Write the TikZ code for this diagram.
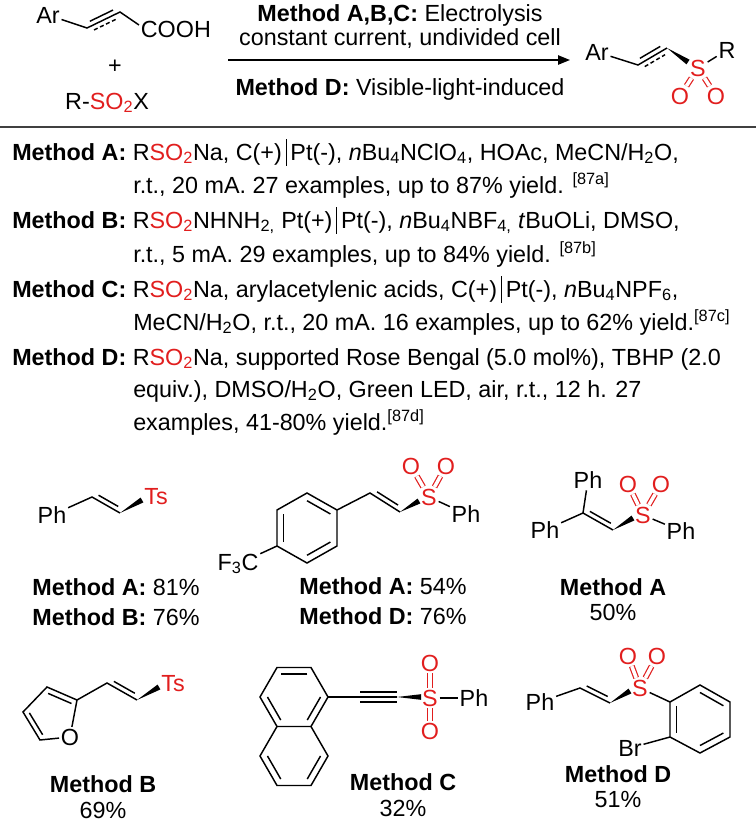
\documentclass[tikz,border=0pt]{standalone}
\usepackage{fontspec}
\setmainfont{Liberation Sans}
\usetikzlibrary{calc,arrows.meta}
\definecolor{sred}{RGB}{225,30,30}
\newcommand{\lf}{\fontsize{17.5}{21}\selectfont}
\newcommand{\sref}[1]{\textsuperscript{[#1]}}
\newcommand{\vbar}{\,\rule[-0.25em]{0.6pt}{1.15em}\,}
\newcommand{\dbond}[4]{\draw[bond] ($(#1)!.15!(#2)!3.6pt!#3:(#2)$) -- ($(#2)!.15!(#1)!3.6pt!#4:(#1)$);}
\newcommand{\dshb}[4]{\draw[bond,dash pattern=on 3pt off 2pt] ($(#1)!.15!(#2)!3.6pt!#3:(#2)$) -- ($(#2)!.15!(#1)!3.6pt!#4:(#1)$);}
\newcommand{\rin}[3]{\draw[bond] ($(#1)!.78!(#2)$) -- ($(#1)!.78!(#3)$);}
\newcommand{\wdg}[2]{\fill ($(#2)!2.1pt!90:(#1)$) -- (#1) -- ($(#2)!2.1pt!-90:(#1)$) -- cycle;}
\begin{document}
\begin{tikzpicture}[x=0.75pt,y=-0.75pt,
  bond/.style={line width=1.1pt},
  lbl/.style={inner sep=1.2pt,font=\lf},
  rlbl/.style={lbl,text=sred},
  txt/.style={inner sep=0pt,font=\lf,anchor=base west},
  ctxt/.style={inner sep=0pt,font=\lf,align=center}]
\useasboundingbox (0,0) rectangle (756,819);
% ---------- reaction ----------
\node[lbl] (ar) at (48,15) {Ar};
\coordinate (a1) at (87,28); \coordinate (a2) at (120,12); \coordinate (a3) at (139,25);
\node[lbl,anchor=west] (cooh) at (139,29) {COOH};
\draw[bond] (ar) -- (a1) -- (a2) -- (a3);
\dbond{a1}{a2}{90}{-90}
\dshb{a1}{a2}{-90}{90}
\node[ctxt] (plus) at (115,67) {+};
\node[ctxt] (rso) at (107,103) {R-{\color{sred}SO\textsubscript{2}}X};
\coordinate (arS) at (228,60); \coordinate (arE) at (570,60);
\draw[line width=1.1pt,-{Triangle[length=9pt,width=7pt]}] (arS) -- (arE);
\node[ctxt] (t1) at (400,15) {\textbf{Method A,B,C:} Electrolysis};
\node[ctxt] (t2) at (400,39) {constant current, undivided cell};
\node[ctxt] (t3) at (400,89) {\textbf{Method D:} Visible-light-induced};
\node[lbl] (par) at (597,52) {Ar};
\coordinate (p1) at (638,65); \coordinate (p2) at (667,48); \coordinate (pw) at (688,62);
\node[rlbl] (pS) at (698,68) {S};
\node[lbl] (pR) at (727,50) {R};
\node[rlbl] (pO1) at (680,96) {O};
\node[rlbl] (pO2) at (716,96) {O};
\draw[bond] (par) -- (p1) -- (p2);
\dbond{p1}{p2}{90}{-90}
\dshb{p1}{p2}{-90}{90}
\wdg{p2}{pw}
\draw[bond] (pS) -- (pR);
\draw[bond,sred,double,double distance=2.6pt,line width=0.9pt] (pS) -- (pO1);
\draw[bond,sred,double,double distance=2.6pt,line width=0.9pt] (pS) -- (pO2);
\coordinate (sepL) at (0,127); \coordinate (sepR) at (756,127);
\draw[line width=0.8pt,black!75] (sepL) -- (sepR);
% ---------- conditions ----------
\node[txt] (mA1) at (12,160) {\textbf{Method A:} R{\color{sred}SO\textsubscript{2}}Na, C(+)\vbar Pt(-), \textit{n}Bu\textsubscript{4}NClO\textsubscript{4}, HOAc, MeCN/H\textsubscript{2}O,};
\node[txt] (mA2) at (133,193) {r.t., 20 mA. 27 examples, up to 87\% yield. \sref{87a}};
\node[txt] (mB1) at (12,228) {\textbf{Method B:} R{\color{sred}SO\textsubscript{2}}NHNH\textsubscript{2,} Pt(+)\vbar Pt(-), \textit{n}Bu\textsubscript{4}NBF\textsubscript{4,} \textit{t}BuOLi, DMSO,};
\node[txt] (mB2) at (133,262) {r.t., 5 mA. 29 examples, up to 84\% yield. \sref{87b}};
\node[txt] (mC1) at (12,297) {\textbf{Method C:} R{\color{sred}SO\textsubscript{2}}Na, arylacetylenic acids, C(+)\vbar Pt(-), \textit{n}Bu\textsubscript{4}NPF\textsubscript{6},};
\node[txt] (mC2) at (133,330) {MeCN/H\textsubscript{2}O, r.t., 20 mA. 16 examples, up to 62\% yield.\sref{87c}};
\node[txt] (mD1) at (12,365) {\textbf{Method D:} R{\color{sred}SO\textsubscript{2}}Na, supported Rose Bengal (5.0 mol\%), TBHP (2.0};
\node[txt] (mD2) at (133,397) {equiv.), DMSO/H\textsubscript{2}O, Green LED, air, r.t., 12 h. 27};
\node[txt] (mD3) at (133,430) {examples, 41-80\% yield.\sref{87d}};
% ---------- structure 1 ----------
\node[lbl] (s1Ph) at (52,515) {Ph};
\coordinate (s1a) at (92,497); \coordinate (s1b) at (120,513); \coordinate (s1w) at (142,500);
\node[rlbl] (s1Ts) at (156,497) {Ts};
\draw[bond] (s1Ph) -- (s1a) -- (s1b);
\dbond{s1a}{s1b}{90}{-90}
\wdg{s1b}{s1w}
\node[ctxt] (l1a) at (116,587) {\textbf{Method A:} 81\%};
\node[ctxt] (l1b) at (116,617) {\textbf{Method B:} 76\%};
% ---------- structure 2 ----------
\coordinate (c2) at (307,528);
\coordinate (r2T) at (307,493); \coordinate (r2UR) at (337,510); \coordinate (r2LR) at (337,546);
\coordinate (r2B) at (307,563); \coordinate (r2LL) at (277,546); \coordinate (r2UL) at (277,510);
\draw[bond] (r2T) -- (r2UR) -- (r2LR) -- (r2B) -- (r2LL) -- (r2UL) -- cycle;
\rin{c2}{r2T}{r2UR} \rin{c2}{r2LR}{r2B} \rin{c2}{r2LL}{r2UL}
\node[lbl] (s2F) at (238,564) {F\textsubscript{3}C};
\draw[bond] (r2LL) -- (s2F);
\coordinate (s2a) at (370,493); \coordinate (s2b) at (400,512); \coordinate (s2w) at (419,501);
\draw[bond] (r2UR) -- (s2a) -- (s2b);
\dbond{s2a}{s2b}{90}{-90}
\wdg{s2b}{s2w}
\node[rlbl] (s2S) at (429,497) {S};
\node[rlbl] (s2O1) at (411,466) {O};
\node[rlbl] (s2O2) at (446,466) {O};
\node[lbl] (s2Ph) at (466,514) {Ph};
\draw[bond] (s2S) -- (s2Ph);
\draw[bond,sred,double,double distance=2.6pt,line width=0.9pt] (s2S) -- (s2O1);
\draw[bond,sred,double,double distance=2.6pt,line width=0.9pt] (s2S) -- (s2O2);
\node[ctxt] (l2a) at (383,586) {\textbf{Method A:} 54\%};
\node[ctxt] (l2b) at (383,616) {\textbf{Method D:} 76\%};
% ---------- structure 3 ----------
\node[lbl] (s3Pt) at (588,480) {Ph};
\node[lbl] (s3Pl) at (545,530) {Ph};
\coordinate (s3a) at (583,513); \coordinate (s3b) at (613,530); \coordinate (s3w) at (633,518);
\draw[bond] (s3Pt) -- (s3a); \draw[bond] (s3Pl) -- (s3a) -- (s3b);
\dbond{s3a}{s3b}{90}{-90}
\wdg{s3b}{s3w}
\node[rlbl] (s3S) at (643,515) {S};
\node[rlbl] (s3O1) at (628,484) {O};
\node[rlbl] (s3O2) at (661,484) {O};
\node[lbl] (s3Pr) at (681,531) {Ph};
\draw[bond] (s3S) -- (s3Pr);
\draw[bond,sred,double,double distance=2.6pt,line width=0.9pt] (s3S) -- (s3O1);
\draw[bond,sred,double,double distance=2.6pt,line width=0.9pt] (s3S) -- (s3O2);
\node[ctxt] (l3a) at (613,587) {\textbf{Method A}};
\node[ctxt] (l3b) at (613,612) {50\%};
% ---------- structure 4 (furan) ----------
\coordinate (f2) at (77,700); \coordinate (f3) at (47,687); \coordinate (f4) at (23,712);
\coordinate (f5) at (40,740); \coordinate (fc) at (52,716);
\node[lbl] (fO) at (70,737) {O};
\draw[bond] (f2) -- (f3) -- (f4) -- (f5) -- (fO) -- (f2);
\rin{fc}{f2}{f3} \rin{fc}{f4}{f5}
\coordinate (s4a) at (107,683); \coordinate (s4b) at (137,700); \coordinate (s4w) at (159,687);
\draw[bond] (f2) -- (s4a) -- (s4b);
\dbond{s4a}{s4b}{90}{-90}
\wdg{s4b}{s4w}
\node[rlbl] (s4Ts) at (173,684) {Ts};
\node[ctxt] (l4a) at (103,784) {\textbf{Method B}};
\node[ctxt] (l4b) at (103,810) {69\%};
% ---------- structure 5 (naphthalene) ----------
\coordinate (nu) at (294,697); \coordinate (nl) at (294,756);
\coordinate (nR) at (328,697); \coordinate (nTR) at (311,667.5); \coordinate (nTL) at (277,667.5);
\coordinate (nL) at (260,697); \coordinate (nFL) at (277,726.5); \coordinate (nFR) at (311,726.5);
\coordinate (nLR) at (328,756); \coordinate (nBR) at (311,785.5); \coordinate (nBL) at (277,785.5);
\coordinate (nLw) at (260,756);
\draw[bond] (nR) -- (nTR) -- (nTL) -- (nL) -- (nFL) -- (nFR) -- cycle;
\draw[bond] (nFR) -- (nLR) -- (nBR) -- (nBL) -- (nLw) -- (nFL);
\rin{nu}{nTR}{nTL} \rin{nu}{nR}{nFR} \rin{nu}{nL}{nFL}
\rin{nl}{nLR}{nBR} \rin{nl}{nBL}{nLw}
\coordinate (t1) at (360,697); \coordinate (t2) at (397,697); \coordinate (tw) at (421,697);
\draw[bond] (nR) -- (t1) -- (t2);
\draw[bond] ($(t1)+(0,-5)$) -- ($(t2)+(0,-5)$);
\draw[bond] ($(t1)+(0,5)$) -- ($(t2)+(0,5)$);
\wdg{t2}{tw}
\node[rlbl] (s5S) at (430,698) {S};
\node[rlbl] (s5O1) at (430,663) {O};
\node[rlbl] (s5O2) at (430,731) {O};
\node[lbl] (s5Ph) at (474,698) {Ph};
\draw[bond] (s5S) -- (s5Ph);
\draw[bond,sred,double,double distance=2.6pt,line width=0.9pt] (s5S) -- (s5O1);
\draw[bond,sred,double,double distance=2.6pt,line width=0.9pt] (s5S) -- (s5O2);
\node[ctxt] (l5a) at (403,782) {\textbf{Method C}};
\node[ctxt] (l5b) at (403,808) {32\%};
% ---------- structure 6 ----------
\node[lbl] (s6Ph) at (540,702) {Ph};
\coordinate (s6a) at (580,688); \coordinate (s6b) at (610,703); \coordinate (s6w) at (630,691);
\draw[bond] (s6Ph) -- (s6a) -- (s6b);
\dbond{s6a}{s6b}{90}{-90}
\wdg{s6b}{s6w}
\node[rlbl] (s6S) at (640,688) {S};
\node[rlbl] (s6O1) at (628,656) {O};
\node[rlbl] (s6O2) at (657,656) {O};
\draw[bond,sred,double,double distance=2.6pt,line width=0.9pt] (s6S) -- (s6O1);
\draw[bond,sred,double,double distance=2.6pt,line width=0.9pt] (s6S) -- (s6O2);
\coordinate (bc) at (700,719);
\coordinate (b1) at (670,702); \coordinate (b2) at (700,685); \coordinate (b3) at (730,702);
\coordinate (b4) at (730,737); \coordinate (b5) at (700,753); \coordinate (b6) at (670,737);
\draw[bond] (b1) -- (b2) -- (b3) -- (b4) -- (b5) -- (b6) -- cycle;
\rin{bc}{b1}{b6} \rin{bc}{b2}{b3} \rin{bc}{b4}{b5}
\draw[bond] (s6S) -- (b1);
\node[lbl] (s6Br) at (630,748) {Br};
\draw[bond] (b6) -- (s6Br);
\node[ctxt] (l6a) at (618,774) {\textbf{Method D}};
\node[ctxt] (l6b) at (618,800) {51\%};
\end{tikzpicture}
\end{document}
